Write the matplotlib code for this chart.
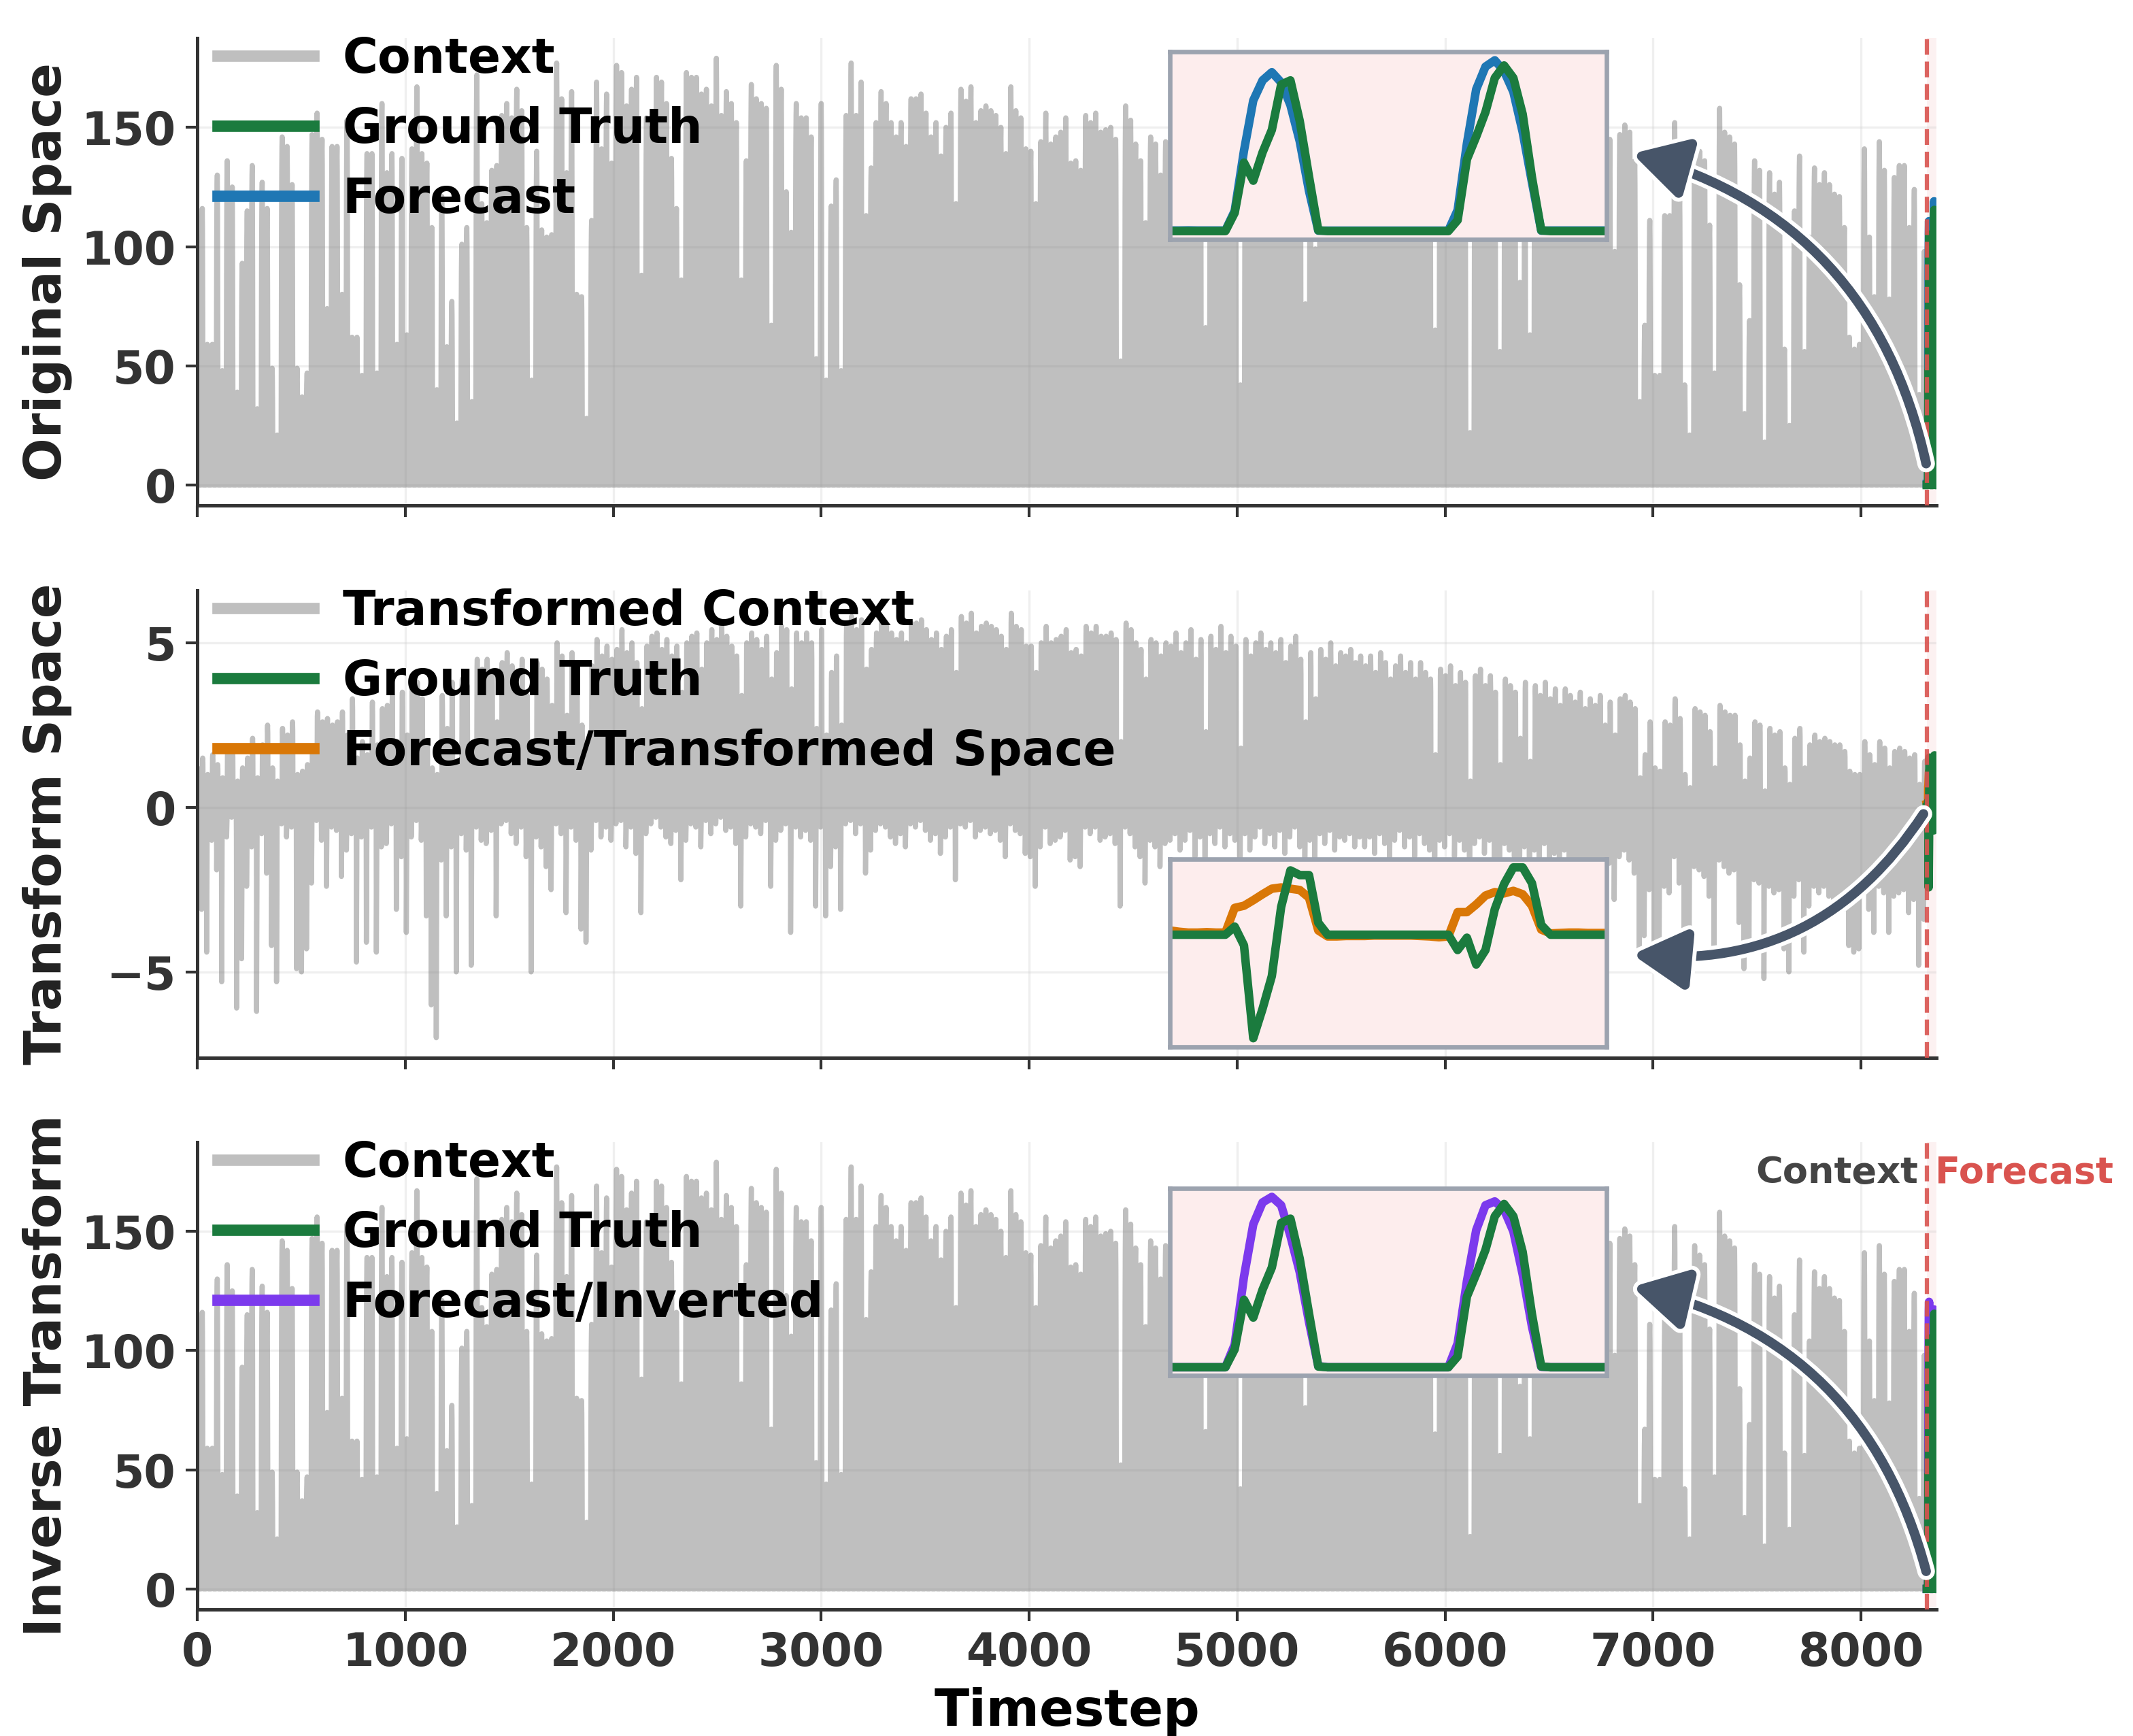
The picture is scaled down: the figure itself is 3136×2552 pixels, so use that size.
import matplotlib
matplotlib.use('Agg')
import matplotlib.pyplot as plt
import matplotlib.patheffects as pe
import numpy as np

# daily peak of the context series (original space), first day starts at noon
context_peaks = [
    73, 116, 59, 59, 130, 48, 136, 125, 39, 93, 115, 134, 32, 127, 116, 49, 21, 146, 142, 126,
    49, 37, 47, 147, 156, 145, 74, 142, 142, 80, 153, 62, 62, 46, 139, 139, 47, 160, 131, 139,
    59, 137, 63, 141, 167, 139, 135, 108, 40, 121, 58, 77, 26, 101, 108, 35, 172, 118, 110, 132,
    134, 155, 160, 154, 166, 157, 108, 44, 140, 107, 104, 105, 177, 162, 131, 165, 80, 79, 28, 111,
    169, 141, 164, 135, 176, 173, 159, 166, 171, 88, 154, 150, 171, 169, 160, 137, 116, 86, 173, 171,
    171, 164, 166, 159, 179, 155, 165, 160, 152, 86, 136, 168, 162, 160, 158, 67, 176,
    166, 123, 106, 160, 154, 154, 146, 53, 160, 44, 117, 128, 48, 155, 177, 155, 169, 113, 133,
    152, 165, 160, 152, 146, 152, 142, 162, 162, 164, 156, 146, 152, 138, 150, 156, 118, 166, 161, 167,
    152, 157, 159, 157, 155, 150, 139, 167, 157, 154, 141, 140, 118, 144, 156, 143, 146, 148, 154, 135,
    136, 132, 155, 152, 156, 148, 149, 150, 145, 52, 159, 153, 143, 136, 110, 146, 143, 130, 144,
    140, 150, 135, 145, 155, 130, 148, 66, 150, 140, 160, 138, 152, 145, 42, 150, 135, 148, 158, 142,
    150, 140, 155, 132, 148, 160, 138, 76, 145, 99, 150, 142, 158, 136, 150, 145, 152, 140, 150,
    140, 150, 135, 155, 145, 130, 148, 160, 142, 150, 138, 152, 145, 140, 65, 150, 145, 155, 138, 150,
    142, 22, 148, 155, 140, 150, 135, 56, 150, 145, 140, 85, 150, 63, 150, 142, 155, 140, 148, 135,
    152, 145, 140, 150, 138, 146, 142, 150, 120, 145,
    98, 147, 151, 148, 136, 35, 67, 111, 46, 46, 113, 113, 152, 121, 42, 21, 144, 140, 136, 109,
    47, 158, 148, 146, 143, 84, 30, 69, 136, 132, 18, 131, 122, 127, 57, 25, 115, 138, 56, 104,
    133, 126, 131, 126, 122, 121, 108, 62, 57, 59, 141, 104, 79, 144, 132, 78, 129, 134, 134, 108,
    124, 38, 98,
]

# daily high / low of the transformed context
transform_pos = [
    1.2, 1.5, 1.0, 1.6, 1.3, 0.9, 1.8, 1.7, 0.8, 1.2, 1.5, 2.1, 0.9, 1.9, 2.5, 1.2, 0.8, 2.4, 2.2, 2.6,
    1.0, 1.1, 1.3, 1.8, 2.9, 2.6, 2.7, 2.5, 2.6, 2.9, 2.2, 3.3, 1.5, 2.0, 1.6, 3.2, 1.9, 3.0, 3.1, 3.4,
    2.0, 3.5, 2.2, 3.6, 3.8, 3.3, 2.0, 1.2, 1.0, 3.4, 2.4, 3.8, 1.3, 3.9, 3.7, 1.5, 4.5, 4.2, 4.5, 4.1,
    2.6, 4.4, 4.7, 4.3, 3.6, 4.5, 3.4, 1.6, 4.4, 4.2, 3.9, 3.1, 5.0, 4.6, 2.8, 4.7, 4.4, 2.5, 2.0, 4.3,
    5.1, 4.6, 4.9, 4.5, 4.8, 5.4, 4.7, 5.0, 4.4, 3.0, 4.9, 5.2, 5.3, 4.8, 5.1, 4.6, 4.9, 3.5, 5.0, 5.2,
    5.3, 4.2, 5.0, 5.4, 5.1, 5.5, 5.2, 4.9, 4.6, 3.4, 5.0, 5.3, 5.1, 4.8, 5.2, 3.9, 4.7, 5.5, 5.4, 3.6,
    5.3, 5.0,
    5.3, 5.0, 2.4, 5.4, 2.2, 4.1, 4.6, 2.5, 5.5, 5.8, 5.4, 5.7, 4.2, 4.8, 5.3, 5.6, 5.5, 5.3, 5.1, 5.3,
    5.0, 5.6, 5.6, 5.7, 5.4, 5.1, 5.3, 4.8, 5.2, 5.4, 4.1, 5.8, 5.6, 5.9, 5.3, 5.5, 5.6, 5.5, 5.4, 5.2,
    4.8, 5.9, 5.5, 5.4, 4.9, 4.9, 4.1, 5.0, 5.5, 5.0, 5.1, 5.2, 5.4, 4.7, 4.8, 4.6, 5.5, 5.3, 5.5, 5.2,
    5.2, 5.3, 5.1, 2.0, 5.6, 5.4, 5.0, 4.8, 3.9, 5.1, 5.0, 4.6, 5.0,
    4.9, 5.3, 4.7, 5.0, 5.4, 4.5, 5.1, 2.3, 5.2, 4.8, 5.5, 4.7, 5.2, 4.9, 1.8, 5.1, 4.6, 5.0, 5.3, 4.8,
    5.0, 4.7, 5.1, 4.4, 4.9, 5.2, 4.5, 2.6, 4.7, 3.3, 4.8, 4.5, 5.0, 4.3, 4.7, 4.6, 4.8, 4.4, 4.6,
    4.3, 4.6, 4.1, 4.7, 4.4, 3.9, 4.3, 4.6, 4.1, 4.4, 3.9, 4.4, 4.1, 3.9, 1.6, 4.2, 4.0, 4.3, 3.7, 4.1,
    3.8, 0.8, 4.0, 4.2, 3.7, 4.0, 3.5, 1.3, 3.9, 3.7, 3.5, 2.1, 3.8, 1.4, 3.7, 3.4, 3.8, 3.3, 3.6, 3.1,
    3.6, 3.4, 3.2, 3.5, 3.0, 3.3, 3.1, 3.4, 2.5, 3.2,
    2.2, 3.3, 3.4, 3.2, 3.0, 0.9, 1.6, 2.6, 1.2, 1.1, 2.6, 2.5, 3.3, 2.7, 1.0, 0.6, 3.0, 2.9, 2.8, 2.3,
    1.2, 3.1, 2.9, 2.8, 2.8, 1.9, 0.8, 1.5, 2.6, 2.5, 0.5, 2.4, 2.2, 2.3, 1.2, 0.7, 2.1, 2.4, 1.2, 1.9,
    2.2, 2.0, 2.1, 2.0, 1.9, 1.9, 1.7, 1.1, 1.0, 1.0, 2.0, 1.6, 1.3, 2.0, 1.8, 1.2, 1.7, 1.8, 1.7, 1.5,
    1.6, 0.7, 1.4,
]
transform_neg = [
    -0.8, -3.1, -4.4, -1.0, -1.9, -5.3, -0.9, -0.3, -6.1, -4.6, -2.4, -1.2, -6.2, -0.8, -2.0, -4.2, -5.3, -0.5, -0.9, -0.6,
    -4.9, -5.0, -4.3, -2.3, -0.4, -1.0, -2.4, -0.6, -0.7, -2.1, -1.3, -0.8, -4.7, -0.9, -4.1, -0.6, -4.4, -1.2, -1.1, -0.5,
    -3.1, -1.5, -3.8, -0.9, -0.4, -1.0, -3.3, -6.0, -7.0, -1.6, -3.3, -1.2, -5.0, -0.8, -1.3, -4.8, -0.6, -1.0, -1.1, -0.7,
    -3.3, -0.5, -0.4, -0.8, -1.1, -0.6, -1.5, -5.0, -0.9, -1.2, -1.8, -2.5, -0.5, -0.8, -3.2, -0.6, -1.0, -3.7, -4.1, -1.3,
    -0.4, -0.9, -0.6, -1.0, -0.5, -0.4, -1.2, -0.6, -1.4, -3.2, -0.8, -0.5, -0.3, -0.6, -0.9, -1.1, -0.7, -2.2, -1.0, -0.5,
    -0.6, -1.2, -0.4, -0.8, -0.5, -0.3, -0.7, -0.6, -1.1, -3.0, -0.9, -0.5, -0.6, -0.8, -0.4, -2.4, -1.0, -0.7, -0.5, -3.8,
    -0.6, -0.9,
    -0.7, -1.0, -3.0, -0.6, -3.3, -1.8, -1.2, -3.1, -0.5, -0.4, -0.8, -0.5, -2.0, -1.3, -0.7, -0.5, -0.6, -0.9, -1.1, -0.8,
    -1.2, -0.5, -0.6, -0.4, -0.7, -1.0, -0.8, -1.4, -0.9, -0.6, -2.2, -0.5, -0.6, -0.4, -0.9, -0.7, -0.6, -0.8, -0.7, -1.0,
    -1.5, -0.5, -0.7, -0.8, -1.4, -1.5, -2.4, -1.2, -0.6, -1.1, -1.0, -0.9, -0.7, -1.6, -1.5, -1.8, -0.6, -0.8, -0.6, -1.0,
    -0.9, -0.8, -1.1, -3.0, -0.6, -0.8, -1.2, -1.5, -2.3, -1.0, -1.2, -1.8, -1.1,
    -1.0, -0.8, -1.3, -1.0, -0.7, -1.5, -0.9, -2.8, -0.8, -1.1, -0.6, -1.2, -0.8, -1.0, -3.2, -0.8, -1.3, -0.9, -0.6, -1.1,
    -0.8, -1.2, -0.7, -1.4, -0.9, -0.6, -1.2, -2.5, -1.0, -2.0, -0.8, -1.1, -0.7, -1.3, -0.9, -1.0, -0.8, -1.2, -0.9,
    -1.2, -0.9, -1.4, -0.8, -1.1, -1.6, -1.0, -0.7, -1.2, -0.9, -1.5, -0.8, -1.1, -1.3, -3.5, -1.0, -1.2, -0.8, -1.5, -1.0,
    -1.3, -4.2, -1.1, -0.9, -1.4, -1.0, -1.6, -3.8, -1.1, -1.3, -1.5, -3.0, -1.2, -3.6, -1.3, -1.6, -1.1, -1.8, -1.4, -2.0,
    -1.3, -1.7, -1.9, -1.5, -2.1, -1.6, -1.8, -1.5, -2.6, -1.7,
    -2.8, -1.5, -1.3, -1.6, -2.0, -4.6, -3.9, -2.5, -4.3, -4.4, -2.4, -2.6, -1.5, -2.3, -4.6, -5.0, -1.8, -1.9, -2.1, -2.7,
    -4.5, -1.6, -1.8, -2.0, -1.9, -3.5, -4.9, -4.0, -2.2, -2.3, -5.2, -2.4, -2.6, -2.5, -4.3, -5.0, -2.7, -2.2, -4.4, -3.0,
    -2.4, -2.6, -2.4, -2.7, -2.8, -2.9, -3.1, -4.2, -4.4, -4.3, -2.3, -3.1, -3.8, -2.4, -2.6, -3.8, -2.7, -2.6, -2.5, -3.2,
    -2.8, -4.8, -3.4,
]

# hourly shape of one day (read from the forecast window)
day_shape = [0, 0, 0, 0, 0, 0, 0, 0.13, 0.45, 0.75, 0.9, 0.97, 1.0, 0.93, 0.72, 0.36, 0.02, 0, 0, 0, 0, 0, 0, 0]
neg_shape = [0, 0, 0, 0, 0, 0, 0, 0, 0.15, 1.0, 0.7, 0.4, 0, 0, 0, 0, 0, 0, 0, 0, 0, 0, 0, 0]
pos_shape = [0, 0, 0, 0, 0, 0, 0, 0, 0, 0, 0, 0, 0.4, 0.95, 1.0, 0.9, 0.2, 0, 0, 0, 0, 0, 0, 0]

# forecast window (48 steps)
gt_original = [0, 0, 0, 0, 0, 0, 0, 12.7, 47.7, 35.1, 54.8, 70.5, 102, 105, 76.8, 38, 0.5, 0, 0, 0, 0, 0, 0, 0,
               0, 0, 0, 0, 0, 0, 0, 7.6, 50, 65.8, 83, 106.7, 115.4, 106.7, 81.5, 37.5, 0.5, 0, 0, 0, 0, 0, 0, 0]
fc_original = [0.4, 0.4, 0.5, 0.4, 0.4, 0.4, 0.4, 14, 56, 91, 105, 110.7, 103.6, 87.8, 62.6, 28, 0.3, 0.3, 0.3, 0.3, 0.3, 0.3, 0.3, 0.3,
               0.3, 0.3, 0.3, 0.3, 0.3, 0.3, 0.3, 14.6, 61, 98.8, 114.6, 119, 111.4, 97, 69, 34, 0.3, 0.4, 0.4, 0.4, 0.4, 0.4, 0.4, 0.4]
gt_transform = [0, 0, 0, 0, 0, 0, 0, 0.19, -0.25, -2.43, -1.74, -0.97, 0.65, 1.51, 1.40, 1.40, 0.28, 0, 0, 0, 0, 0, 0, 0,
                0, 0, 0, 0, 0, 0, 0, -0.36, -0.07, -0.70, -0.36, 0.60, 1.19, 1.58, 1.58, 1.21, 0.23, 0, 0, 0, 0, 0, 0, 0]
fc_transform = [0.1, 0.07, 0.05, 0.05, 0.06, 0.05, 0.05, 0.63, 0.68, 0.81, 0.95, 1.08, 1.11, 1.08, 1.05, 0.87, 0.1, -0.04, -0.04, -0.03, -0.03, -0.03, -0.02, -0.02,
                -0.02, -0.02, -0.02, -0.03, -0.04, -0.06, -0.04, 0.53, 0.53, 0.71, 0.92, 1.0, 0.97, 1.03, 0.95, 0.68, 0.12, 0.03, 0.04, 0.05, 0.05, 0.04, 0.04, 0.04]
fc_inverted = [0, 0, 0, 0, 0, 0, 0, 16, 64, 101, 116.5, 120.4, 114.5, 92.9, 67.2, 32, 0.8, 0, 0, 0, 0, 0, 0, 0,
               0, 0, 0, 0, 0, 0, 0, 16.8, 60.8, 96.9, 114.5, 117.2, 111.3, 96, 65.6, 28.8, 0.3, 0, 0, 0, 0, 0, 0, 0]

ticks_x = [0, 1000, 2000, 3000, 4000, 5000, 6000, 7000, 8000]

plt.rcParams['font.family'] = 'DejaVu Sans'
plt.rcParams['font.weight'] = 'bold'
plt.rcParams['axes.labelweight'] = 'bold'

context = np.outer(context_peaks, day_shape).ravel()[12:]
context_tf = (np.outer(transform_neg, neg_shape) + np.outer(transform_pos, pos_shape)).ravel()[12:]
n_ctx = len(context)
t_ctx = np.arange(n_ctx)
t_fc = np.arange(n_ctx, n_ctx + len(gt_original))
x_end = n_ctx + len(gt_original)

GRAY = 'gray'
GREEN = '#1b7b3e'
BLUE = '#1f77b4'
ORANGE = '#d97706'
PURPLE = '#7c3aed'
RED = '#d9534f'
SLATE = '#475569'

fig, axes = plt.subplots(3, 1, figsize=(3136 / 300, 2552 / 300), dpi=300, sharex=True)
fig.subplots_adjust(left=0.0925, right=0.908, top=0.978, bottom=0.0729, hspace=0.181)

panels = [
    (context, gt_original, fc_original, BLUE, 'Context', 'Forecast', 'Original Space', (-8.6, 187.4)),
    (context_tf, gt_transform, fc_transform, ORANGE, 'Transformed Context', 'Forecast/Transformed Space',
     'Transform Space', (-7.6, 6.6)),
    (context, gt_original, fc_inverted, PURPLE, 'Context', 'Forecast/Inverted', 'Inverse Transform', (-8.6, 187.4)),
]
inset_pos = [[0.559, 0.569, 0.251, 0.402], [0.559, 0.023, 0.251, 0.402], [0.559, 0.5, 0.251, 0.401]]
arrows = [((6900, 139), (8313, 9), 0.3), ((6900, -4.47), (8300, -0.2), -0.3), ((6900, 126.7), (8313, 7.4), 0.3)]

for i, ax in enumerate(axes):
    ctx, gt, fc, fc_col, ctx_lab, fc_lab, ylab, ylim = panels[i]
    ax.plot(t_ctx, ctx, color=GRAY, alpha=0.5, lw=1.8, label=ctx_lab, zorder=2)
    ax.plot(t_fc, gt, color=GREEN, lw=3, label='Ground Truth', zorder=4)
    ax.plot(t_fc, fc, color=fc_col, lw=3, label=fc_lab, zorder=3)
    ax.axvline(n_ctx, color=RED, ls='--', lw=1.5, alpha=0.9, zorder=5)
    ax.axvspan(n_ctx, x_end, color=RED, alpha=0.08, lw=0, zorder=1)
    ax.set_xlim(0, x_end)
    ax.set_ylim(*ylim)
    ax.set_xticks(ticks_x)
    ax.grid(True, color='#cccccc', alpha=0.3, lw=0.8)
    for s in ['top', 'right']:
        ax.spines[s].set_visible(False)
    for s in ['left', 'bottom']:
        ax.spines[s].set_linewidth(1.2)
        ax.spines[s].set_color('#333333')
    ax.tick_params(labelsize=16, width=1.0, length=4, colors='#333333')
    ax.set_ylabel(ylab, fontsize=18, color='#222222')
    ax.yaxis.set_label_coords(-0.072, 0.5)

    leg = ax.legend(loc='upper left', bbox_to_anchor=(0.006, 1.025), frameon=False, fontsize=17,
                    handlelength=2.0, handletextpad=0.6, labelspacing=0.48, borderaxespad=0.1, borderpad=0.1)
    for h in leg.legend_handles:
        h.set_linewidth(4.0)

    # zoomed window on the forecast
    axin = ax.inset_axes(inset_pos[i])
    axin.set_facecolor('#fdeded')
    axin.plot(t_fc, fc, color=fc_col, lw=3)
    axin.plot(t_fc, gt, color=GREEN, lw=3)
    axin.set_xlim(t_fc[0], t_fc[-1])
    axin.set_xticks([])
    axin.set_yticks([])
    for s in axin.spines.values():
        s.set_color('#9ca3af')
        s.set_linewidth(1.6)

    head, tail, rad = arrows[i]
    ax.annotate('', xy=head, xytext=tail,
                arrowprops=dict(arrowstyle='-|>,head_length=0.8,head_width=0.45',
                                connectionstyle='arc3,rad=%s' % rad, color=SLATE, lw=3.4,
                                mutation_scale=20, shrinkA=0, shrinkB=0, capstyle='round',
                                joinstyle='round',
                                path_effects=[pe.withStroke(linewidth=6.2, foreground='white')]),
                zorder=6)

axes[2].set_xlabel('Timestep', fontsize=18, labelpad=4)
axes[2].annotate('Context', xy=(n_ctx, 174.4), xytext=(-3, 0), textcoords='offset points',
                 ha='right', va='center', fontsize=13, color='#444444', fontweight='bold')
axes[2].annotate('Forecast', xy=(n_ctx, 174.4), xytext=(3, 0), textcoords='offset points',
                 ha='left', va='center', fontsize=13, color=RED, fontweight='bold', annotation_clip=False)

fig.savefig('out.png', dpi=300)
